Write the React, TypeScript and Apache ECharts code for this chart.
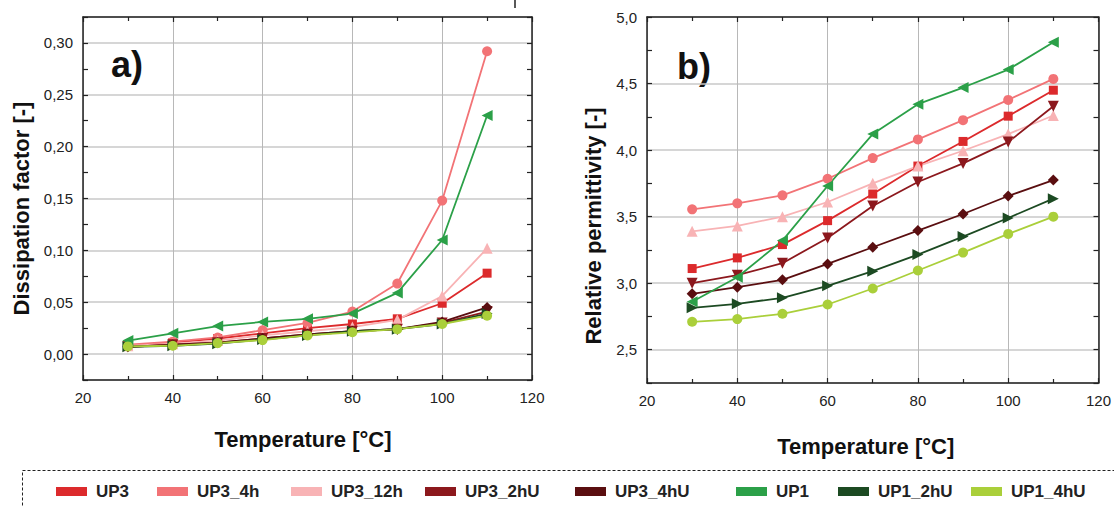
import React, { useEffect, useRef } from 'react';
import * as echarts from 'echarts';

// ---------- data ----------
const temperatures = [30, 40, 50, 60, 70, 80, 90, 100, 110];
const xTicks = [20, 40, 60, 80, 100, 120];

const seriesNames = ['UP3', 'UP3_4h', 'UP3_12h', 'UP3_2hU', 'UP3_4hU', 'UP1', 'UP1_2hU', 'UP1_4hU'];

// a) Dissipation factor [-]
const dfUP3 = [0.008, 0.011, 0.015, 0.020, 0.025, 0.029, 0.034, 0.049, 0.078];
const dfUP3_4h = [0.009, 0.012, 0.016, 0.023, 0.030, 0.041, 0.068, 0.148, 0.292];
const dfUP3_12h = [0.008, 0.010, 0.013, 0.018, 0.022, 0.026, 0.033, 0.056, 0.102];
const dfUP3_2hU = [0.007, 0.009, 0.011, 0.015, 0.019, 0.022, 0.024, 0.030, 0.041];
const dfUP3_4hU = [0.007, 0.009, 0.011, 0.015, 0.019, 0.022, 0.024, 0.031, 0.045];
const dfUP1 = [0.013, 0.020, 0.027, 0.031, 0.034, 0.039, 0.059, 0.110, 0.230];
const dfUP1_2hU = [0.007, 0.008, 0.010, 0.014, 0.018, 0.022, 0.024, 0.029, 0.039];
const dfUP1_4hU = [0.0074, 0.008, 0.0106, 0.0135, 0.018, 0.021, 0.024, 0.029, 0.037];

// b) Relative permittivity [-]
const epsUP3 = [3.11, 3.19, 3.29, 3.47, 3.67, 3.88, 4.065, 4.255, 4.45];
const epsUP3_4h = [3.555, 3.60, 3.66, 3.785, 3.94, 4.08, 4.225, 4.377, 4.535];
const epsUP3_12h = [3.39, 3.43, 3.50, 3.61, 3.75, 3.88, 3.995, 4.12, 4.26];
const epsUP3_2hU = [3.00, 3.06, 3.15, 3.34, 3.58, 3.76, 3.90, 4.06, 4.33];
const epsUP3_4hU = [2.92, 2.97, 3.025, 3.145, 3.27, 3.395, 3.52, 3.655, 3.775];
const epsUP1 = [2.86, 3.045, 3.32, 3.73, 4.12, 4.345, 4.47, 4.605, 4.81];
const epsUP1_2hU = [2.815, 2.845, 2.89, 2.98, 3.09, 3.215, 3.35, 3.49, 3.635];
const epsUP1_4hU = [2.71, 2.73, 2.77, 2.84, 2.96, 3.095, 3.23, 3.37, 3.50];

const dissipationValues = [dfUP3, dfUP3_4h, dfUP3_12h, dfUP3_2hU, dfUP3_4hU, dfUP1, dfUP1_2hU, dfUP1_4hU];
const permittivityValues = [epsUP3, epsUP3_4h, epsUP3_12h, epsUP3_2hU, epsUP3_4hU, epsUP1, epsUP1_2hU, epsUP1_4hU];

// ---------- styles ----------
const colors = ['#DC2A2C', '#F27376', '#F8B3B5', '#8C181D', '#5A0E10', '#2BA048', '#1C4A22', '#AACF3A'];
const symbols = ['rect', 'circle', 'triangle', 'triangle', 'diamond', 'triangle', 'triangle', 'circle'];
const symbolRotations = [0, 0, 0, 180, 0, 90, -90, 0];
const symbolSizes = [9, 10, 11, 11, 11, 11, 11, 10];
const legendLefts = [56, 157, 291, 425, 575, 736, 838, 971];

const FONT = 'Liberation Sans, Arial, Helvetica, sans-serif';
const AXIS_COLOR = '#222';

function fmtA(v: number) {
  return Math.round(v / 0.025) % 2 === 0 ? v.toFixed(2).replace('.', ',') : '';
}
function fmtB(v: number) {
  return Math.round(v / 0.25) % 2 === 0 ? v.toFixed(1).replace('.', ',') : '';
}

const axisLine = { show: true, onZero: false, lineStyle: { color: AXIS_COLOR, width: 1.5 } };
const tick = { show: true, inside: true, length: 5, lineStyle: { color: AXIS_COLOR, width: 1.2 } };
const minorTick = { show: true, splitNumber: 2, length: 4, lineStyle: { color: AXIS_COLOR, width: 1.2 } };

function xAxisPair(grid: number, nameGap: number, namePad: number[]) {
  return [
    {
      type: 'value', gridIndex: grid, position: 'bottom',
      min: xTicks[0], max: xTicks[xTicks.length - 1], interval: 20,
      axisLine, axisTick: tick, minorTick,
      axisLabel: { show: true, margin: 10, fontSize: 15, color: '#222', fontFamily: FONT },
      splitLine: { show: true, lineStyle: { color: '#b8b8b8', width: 1 } },
      name: 'Temperature [°C]', nameLocation: 'middle', nameGap,
      nameTextStyle: { fontSize: 22, fontWeight: 'bold', color: '#111', fontFamily: FONT, padding: namePad },
    },
    {
      type: 'value', gridIndex: grid, position: 'top',
      min: xTicks[0], max: xTicks[xTicks.length - 1], interval: 20,
      axisLine, axisTick: tick, minorTick,
      axisLabel: { show: false }, splitLine: { show: false },
    },
  ];
}

function yAxisTriple(grid: number, min: number, max: number, step: number, splitNumber: number,
  formatter: (v: number) => string, name: string, nameGap: number, namePad: number[]) {
  return [
    {
      type: 'value', gridIndex: grid, position: 'left', min, max, interval: step,
      axisLine, axisTick: tick,
      axisLabel: { show: true, margin: 10, fontSize: 15, color: '#222', fontFamily: FONT, formatter },
      splitLine: { show: false },
      name, nameLocation: 'middle', nameGap, nameRotate: 90,
      nameTextStyle: { fontSize: 22, fontWeight: 'bold', color: '#111', fontFamily: FONT, padding: namePad },
    },
    {
      type: 'value', gridIndex: grid, position: 'right', min, max, interval: step,
      axisLine, axisTick: tick, axisLabel: { show: false }, splitLine: { show: false },
    },
    {
      type: 'value', gridIndex: grid, position: 'left', min, max, splitNumber,
      axisLine: { show: false, onZero: false }, axisTick: { show: false }, axisLabel: { show: false },
      splitLine: { show: true, lineStyle: { color: '#c8c8c8', width: 1.5 } },
    },
  ];
}

function buildSeries(values: number[][], xIdx: number, yIdx: number) {
  return seriesNames.map((name, i) => ({
    type: 'line',
    name,
    xAxisIndex: xIdx,
    yAxisIndex: yIdx,
    data: temperatures.map((t, j) => [t, values[i][j]]),
    symbol: symbols[i],
    symbolSize: symbolSizes[i],
    symbolRotate: symbolRotations[i],
    lineStyle: { color: colors[i], width: 1.8 },
    itemStyle: { color: colors[i] },
    emphasis: { disabled: true },
  }));
}

export default function App() {
  const ref = useRef<HTMLDivElement>(null);

  useEffect(() => {
    if (!ref.current) return;
    const chart = echarts.init(ref.current, undefined, { renderer: 'svg' });

    const legends = seriesNames.map((name, i) => ({
      data: [name],
      left: legendLefts[i],
      top: 483,
      padding: 0,
      itemWidth: 31,
      itemHeight: 9,
      icon: 'rect',
      selectedMode: false,
      textStyle: { fontSize: 17, fontWeight: 'bold', color: '#222', fontFamily: FONT, padding: [0, 0, 0, 4] },
    }));

    const option: any = {
      animation: false,
      backgroundColor: '#ffffff',
      textStyle: { fontFamily: FONT },
      grid: [
        { left: 83, top: 17, width: 449, height: 363 },
        { left: 647, top: 17, width: 453, height: 366 },
      ],
      xAxis: [...xAxisPair(0, 48, [0, 9, 0, 0]), ...xAxisPair(1, 52, [0, 14, 0, 0])],
      yAxis: [
        ...yAxisTriple(0, -0.025, 0.325, 0.025, 7, fmtA, 'Dissipation factor [-]', 51, [0, 20, 0, 0]),
        ...yAxisTriple(1, 2.25, 5.0, 0.25, 5, fmtB, 'Relative permittivity [-]', 43, [0, 52, 0, 0]),
      ],
      legend: legends,
      graphic: [
        {
          type: 'text', x: 111, y: 64,
          style: { text: 'a)', fontSize: 36, fontWeight: 'bold', fontFamily: FONT, fill: '#111', verticalAlign: 'middle', align: 'left' },
        },
        {
          type: 'text', x: 677, y: 66,
          style: { text: 'b)', fontSize: 36, fontWeight: 'bold', fontFamily: FONT, fill: '#111', verticalAlign: 'middle', align: 'left' },
        },
        {
          type: 'rect', shape: { x: 22.5, y: 470.5, width: 1200, height: 100 },
          style: { fill: 'none', stroke: '#222', lineWidth: 1, lineDash: [3, 2] },
          silent: true,
        },
        {
          type: 'line', shape: { x1: 515, y1: 0, x2: 515, y2: 8 },
          style: { stroke: '#222', lineWidth: 1.5 },
          silent: true,
        },
      ],
      series: [
        ...buildSeries(dissipationValues, 0, 0),
        ...buildSeries(permittivityValues, 2, 3),
      ],
    };

    chart.setOption(option);
    return () => chart.dispose();
  }, []);

  return (
    <div
      ref={ref}
      style={{ position: 'fixed', left: 0, top: 0, width: 1114, height: 506, background: '#fff' }}
    />
  );
}
